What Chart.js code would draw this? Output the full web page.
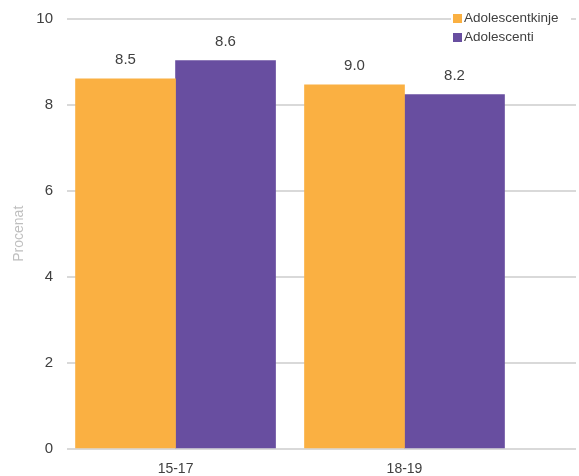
<!DOCTYPE html>
<html>
<head>
<meta charset="utf-8">
<script src="https://cdn.jsdelivr.net/npm/chart.js@4/dist/chart.umd.min.js"></script>
<style>
  html, body { margin: 0; padding: 0; background: #fff; }
  #wrap { width: 579px; height: 476px; }
</style>
</head>
<body>
<div id="wrap"><canvas id="chart"></canvas></div>
<script>
// podaci
const categories = ['15-17', '18-19'];
const seriesNames = ['Adolescentkinje', 'Adolescenti'];
const girlsValues = [8.6, 8.46];
const boysValues = [9.02, 8.23];
const girlsLabels = ['8.5', '9.0'];
const boysLabels = ['8.6', '8.2'];
const yTicks = [0, 2, 4, 6, 8, 10];

const orange = '#FAB042';
const purple = '#684EA0';
const textColor = '#404040';
const fontFamily = '"Liberation Sans", Arial, sans-serif';

const pointLabels = [girlsLabels, boysLabels];

// natpisi iznad stubaca
const valueLabels = {
  id: 'valueLabels',
  afterDatasetsDraw(chart) {
    const ctx = chart.ctx;
    ctx.save();
    ctx.font = '15px ' + fontFamily;
    ctx.fillStyle = textColor;
    ctx.textAlign = 'center';
    ctx.textBaseline = 'middle';
    chart.data.datasets.forEach((ds, di) => {
      chart.getDatasetMeta(di).data.forEach((bar, i) => {
        ctx.fillText(pointLabels[di][i], bar.x, bar.y - 19);
      });
    });
    ctx.restore();
  }
};

// legenda u gornjem desnom uglu
const cornerLegend = {
  id: 'cornerLegend',
  afterDraw(chart) {
    const ctx = chart.ctx;
    const area = chart.chartArea;
    const x0 = area.right - 123;
    ctx.save();
    ctx.fillStyle = '#fff';
    ctx.fillRect(x0 - 2, area.top - 9, 120, 36);
    ctx.font = '13.5px ' + fontFamily;
    ctx.textBaseline = 'middle';
    chart.data.datasets.forEach((ds, i) => {
      const cy = area.top + i * 19;
      ctx.fillStyle = ds.backgroundColor;
      ctx.fillRect(x0, cy - 4.5, 9, 9);
      ctx.fillStyle = textColor;
      ctx.fillText(ds.label, x0 + 11, cy);
    });
    ctx.restore();
  }
};

new Chart(document.getElementById('chart'), {
  type: 'bar',
  data: {
    datasets: [
      {
        label: seriesNames[0],
        data: girlsValues.map((v, i) => ({ x: i, y: v })),
        backgroundColor: orange,
        barThickness: 100
      },
      {
        label: seriesNames[1],
        data: boysValues.map((v, i) => ({ x: i, y: v })),
        backgroundColor: purple,
        barThickness: 100
      }
    ]
  },
  options: {
    responsive: true,
    maintainAspectRatio: false,
    animation: false,
    layout: { padding: { top: 0, right: 3, bottom: 0, left: 0 } },
    plugins: {
      legend: { display: false },
      tooltip: { enabled: false }
    },
    scales: {
      x: {
        type: 'linear',
        min: -0.474,
        max: 1.749,
        offset: false,
        grid: { display: false, drawTicks: false, offset: false },
        border: { display: false },
        afterBuildTicks: (scale) => { scale.ticks = categories.map((c, i) => ({ value: i })); },
        afterFit: (scale) => { scale.height = 27; },
        ticks: {
          color: textColor,
          font: { family: fontFamily, size: 14 },
          padding: 12,
          callback: (v) => categories[v]
        }
      },
      y: {
        min: 0,
        max: 10,
        afterBuildTicks: (scale) => { scale.ticks = yTicks.map(v => ({ value: v })); },
        afterFit: (scale) => { scale.width = 67; },
        grid: { color: '#D9D9D9', lineWidth: 2, drawTicks: false },
        border: { display: false },
        ticks: {
          color: textColor,
          font: { family: fontFamily, size: 15, lineHeight: 0.6 },
          padding: 14
        },
        title: {
          display: true,
          text: 'Procenat',
          color: '#BFBFBF',
          font: { family: fontFamily, size: 14 },
          padding: { top: 11, bottom: 4 }
        }
      }
    }
  },
  plugins: [valueLabels, cornerLegend]
});
</script>
</body>
</html>
